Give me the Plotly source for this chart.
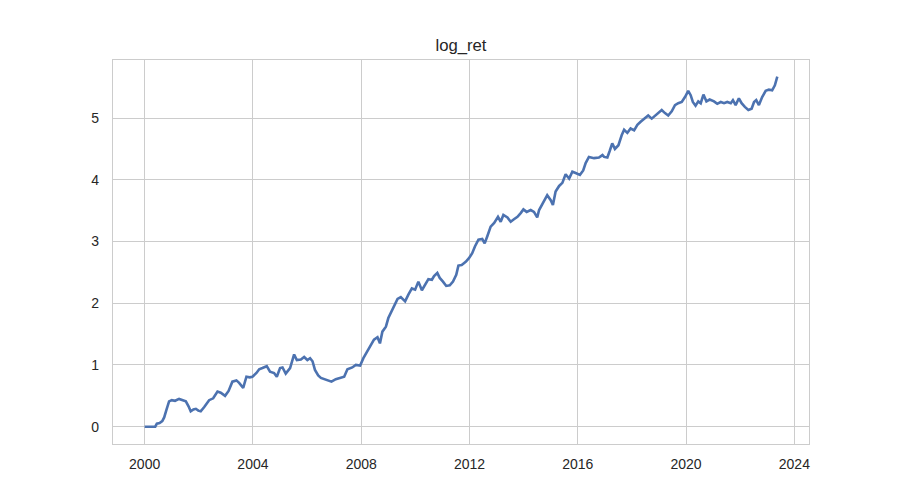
import plotly.graph_objects as go
import pandas as pd

# decimal years
years = [
    2000.00, 2000.39, 2000.45, 2000.55, 2000.65, 2000.72, 2000.80, 2000.90, 2001.00, 2001.12,
    2001.27, 2001.40, 2001.52, 2001.62, 2001.70, 2001.80, 2001.89, 2001.98, 2002.07, 2002.20,
    2002.38, 2002.53, 2002.69, 2002.81, 2002.97, 2003.10, 2003.24, 2003.39, 2003.49, 2003.64,
    2003.76, 2003.88, 2003.98, 2004.13, 2004.23, 2004.35, 2004.51, 2004.63, 2004.78, 2004.88,
    2005.00, 2005.09, 2005.21, 2005.37, 2005.46, 2005.52, 2005.62, 2005.77, 2005.89, 2006.01,
    2006.11, 2006.20, 2006.29, 2006.41, 2006.51, 2006.63, 2006.75, 2006.90, 2007.06, 2007.22,
    2007.37, 2007.49, 2007.67, 2007.80, 2007.96, 2008.08, 2008.23, 2008.35, 2008.47, 2008.60,
    2008.69, 2008.78, 2008.91, 2009.00, 2009.09, 2009.21, 2009.34, 2009.46, 2009.62, 2009.74,
    2009.87, 2009.99, 2010.11, 2010.24, 2010.36, 2010.48, 2010.61, 2010.69, 2010.81, 2010.90,
    2011.02, 2011.14, 2011.27, 2011.39, 2011.51, 2011.59, 2011.71, 2011.86, 2011.98, 2012.10,
    2012.20, 2012.33, 2012.47, 2012.56, 2012.66, 2012.78, 2012.91, 2013.05, 2013.15, 2013.25,
    2013.40, 2013.52, 2013.64, 2013.77, 2013.89, 2013.99, 2014.11, 2014.26, 2014.38, 2014.50,
    2014.57, 2014.65, 2014.75, 2014.87, 2015.00, 2015.08, 2015.18, 2015.31, 2015.43, 2015.55,
    2015.68, 2015.80, 2015.92, 2016.08, 2016.20, 2016.29, 2016.41, 2016.60, 2016.78, 2016.91,
    2016.97, 2017.09, 2017.18, 2017.27, 2017.37, 2017.50, 2017.62, 2017.71, 2017.83, 2017.95,
    2018.08, 2018.20, 2018.32, 2018.45, 2018.60, 2018.73, 2018.85, 2018.97, 2019.10, 2019.22,
    2019.34, 2019.47, 2019.59, 2019.71, 2019.84, 2019.96, 2020.08, 2020.17, 2020.25, 2020.35,
    2020.45, 2020.54, 2020.64, 2020.75, 2020.87, 2021.03, 2021.15, 2021.28, 2021.40, 2021.52,
    2021.65, 2021.73, 2021.83, 2021.95, 2022.05, 2022.17, 2022.30, 2022.42, 2022.51, 2022.59,
    2022.69, 2022.81, 2022.94, 2023.06, 2023.18, 2023.28, 2023.37,
]

log_ret = [
    0.00, 0.00, 0.05, 0.06, 0.09, 0.15, 0.27, 0.41, 0.43, 0.42,
    0.45, 0.43, 0.41, 0.33, 0.25, 0.28, 0.29, 0.26, 0.25, 0.32,
    0.43, 0.46, 0.57, 0.55, 0.50, 0.58, 0.73, 0.75, 0.71, 0.63,
    0.81, 0.80, 0.81, 0.87, 0.93, 0.95, 0.98, 0.89, 0.87, 0.81,
    0.95, 0.96, 0.86, 0.95, 1.08, 1.17, 1.08, 1.09, 1.13, 1.08,
    1.11, 1.06, 0.92, 0.83, 0.79, 0.77, 0.75, 0.73, 0.77, 0.79,
    0.81, 0.93, 0.96, 1.00, 0.99, 1.11, 1.22, 1.30, 1.41, 1.45,
    1.35, 1.54, 1.62, 1.76, 1.84, 1.96, 2.07, 2.10, 2.03, 2.14,
    2.24, 2.22, 2.35, 2.21, 2.30, 2.39, 2.38, 2.44, 2.49, 2.41,
    2.35, 2.28, 2.29, 2.35, 2.46, 2.61, 2.62, 2.67, 2.73, 2.81,
    2.92, 3.03, 3.04, 2.97, 3.09, 3.24, 3.30, 3.40, 3.32, 3.43,
    3.39, 3.32, 3.36, 3.40, 3.46, 3.52, 3.48, 3.51, 3.48, 3.39,
    3.51, 3.57, 3.65, 3.75, 3.67, 3.59, 3.81, 3.90, 3.95, 4.09,
    4.02, 4.13, 4.11, 4.08, 4.15, 4.27, 4.37, 4.35, 4.36, 4.40,
    4.37, 4.36, 4.47, 4.59, 4.50, 4.56, 4.72, 4.81, 4.76, 4.83,
    4.80, 4.89, 4.94, 4.98, 5.04, 4.99, 5.04, 5.08, 5.13, 5.08,
    5.04, 5.11, 5.21, 5.24, 5.26, 5.34, 5.44, 5.37, 5.26, 5.20,
    5.27, 5.24, 5.38, 5.27, 5.30, 5.27, 5.23, 5.26, 5.24, 5.26,
    5.24, 5.29, 5.21, 5.32, 5.24, 5.18, 5.13, 5.15, 5.26, 5.29,
    5.21, 5.34, 5.44, 5.46, 5.45, 5.53, 5.67,
]

x_ticks = ["2000-01-01", "2004-01-01", "2008-01-01", "2012-01-01",
           "2016-01-01", "2020-01-01", "2024-01-01"]
x_tick_labels = ["2000", "2004", "2008", "2012", "2016", "2020", "2024"]
y_ticks = [0, 1, 2, 3, 4, 5]


def to_date(y):
    yr = int(y)
    start = pd.Timestamp(year=yr, month=1, day=1)
    end = pd.Timestamp(year=yr + 1, month=1, day=1)
    return start + (end - start) * (y - yr)


dates = [to_date(y) for y in years]

TEXT = "#262626"
GRID = "#cccccc"

fig = go.Figure()
fig.add_trace(go.Scatter(
    x=dates, y=log_ret, mode="lines",
    line=dict(color="#4c72b0", width=2.6),
    name="log_ret", showlegend=False,
))

fig.update_layout(
    width=900, height=500,
    margin=dict(l=105, r=99, t=52, b=64),
    paper_bgcolor="white", plot_bgcolor="white",
    font=dict(family="Liberation Sans, Arial, sans-serif", size=14, color=TEXT),
    title=dict(text="log_ret", x=453 / 900, xanchor="center",
               y=1 - 37 / 500, yanchor="middle",
               font=dict(size=16.7, color=TEXT)),
)

fig.update_xaxes(
    type="date",
    range=[to_date(1998.83), to_date(2024.54)],
    tickvals=x_ticks, ticktext=x_tick_labels,
    showgrid=True, gridcolor=GRID, gridwidth=1.3,
    showline=True, linecolor=GRID, linewidth=1.4, mirror=True,
    zeroline=False, ticks="", ticklabelstandoff=7,
)
fig.update_yaxes(
    range=[-0.28, 5.94],
    tickvals=y_ticks,
    showgrid=True, gridcolor=GRID, gridwidth=1.3,
    showline=True, linecolor=GRID, linewidth=1.4, mirror=True,
    zeroline=False, ticks="", ticklabelstandoff=10,
)

fig.write_html("out.html")
